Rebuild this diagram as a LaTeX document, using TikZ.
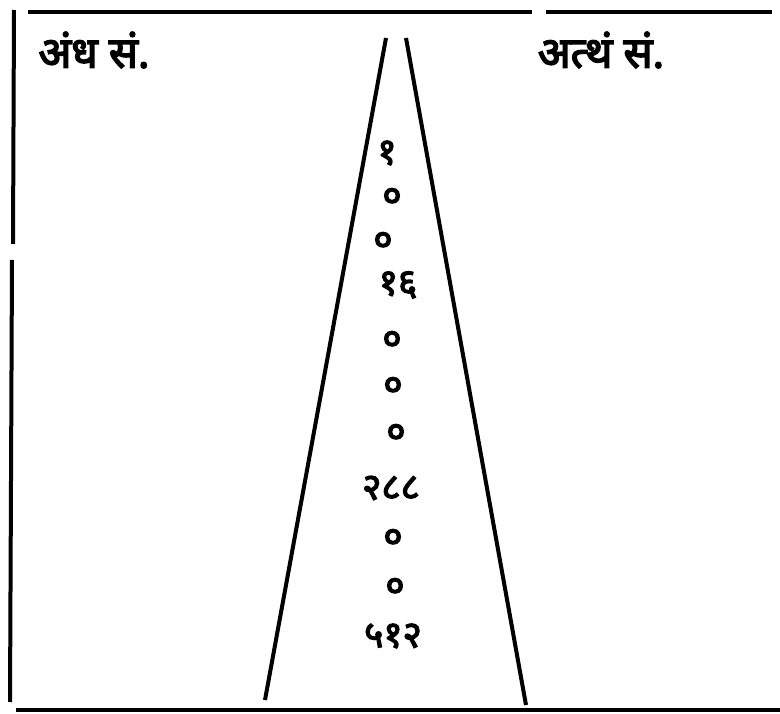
\documentclass[tikz,border=0pt]{standalone}
\usepackage{fontspec}
\newfontfamily\dev[Script=Devanagari,FakeBold=3.5]{Noto Sans}
\begin{document}
\begin{tikzpicture}[x=1pt,y=-1pt,
  rule/.style={line width=4pt,black},
  head/.style={font=\dev\fontsize{43}{46}\selectfont,inner sep=0pt},
  num/.style={font=\dev\fontsize{37}{40}\selectfont,inner sep=0pt}]
\useasboundingbox (0,0) rectangle (780,714);
% frame
\draw[rule] (28,12) -- (532,12);
\draw[rule] (546,12) -- (772,12);
\draw[rule] (14,10) -- (13,244);
\draw[rule] (12,260) -- (10,702);
\draw[rule] (16,710) -- (780,710);
% tapering lines
\draw[rule] (386,38) -- (265,700);
\draw[rule] (406,38) -- (526,705);
% headings
\node[head] (h1) at (94,50) {अंध सं.};
\node[head] (h2) at (601,50) {अत्थं सं.};
% numbers
\node[num] (n1) at (387,153) {१};
\node[num] (n2) at (392,198) {०};
\node[num] (n3) at (383,242) {०};
\node[num] (n4) at (398,285) {१६};
\node[num] (n5) at (392,341) {०};
\node[num] (n6) at (393,387) {०};
\node[num] (n7) at (396,434) {०};
\node[num] (n8) at (391,488) {२८८};
\node[num] (n9) at (393,539) {०};
\node[num] (n10) at (395,588) {०};
\node[num] (n11) at (393,636) {५१२};
\end{tikzpicture}
\end{document}
